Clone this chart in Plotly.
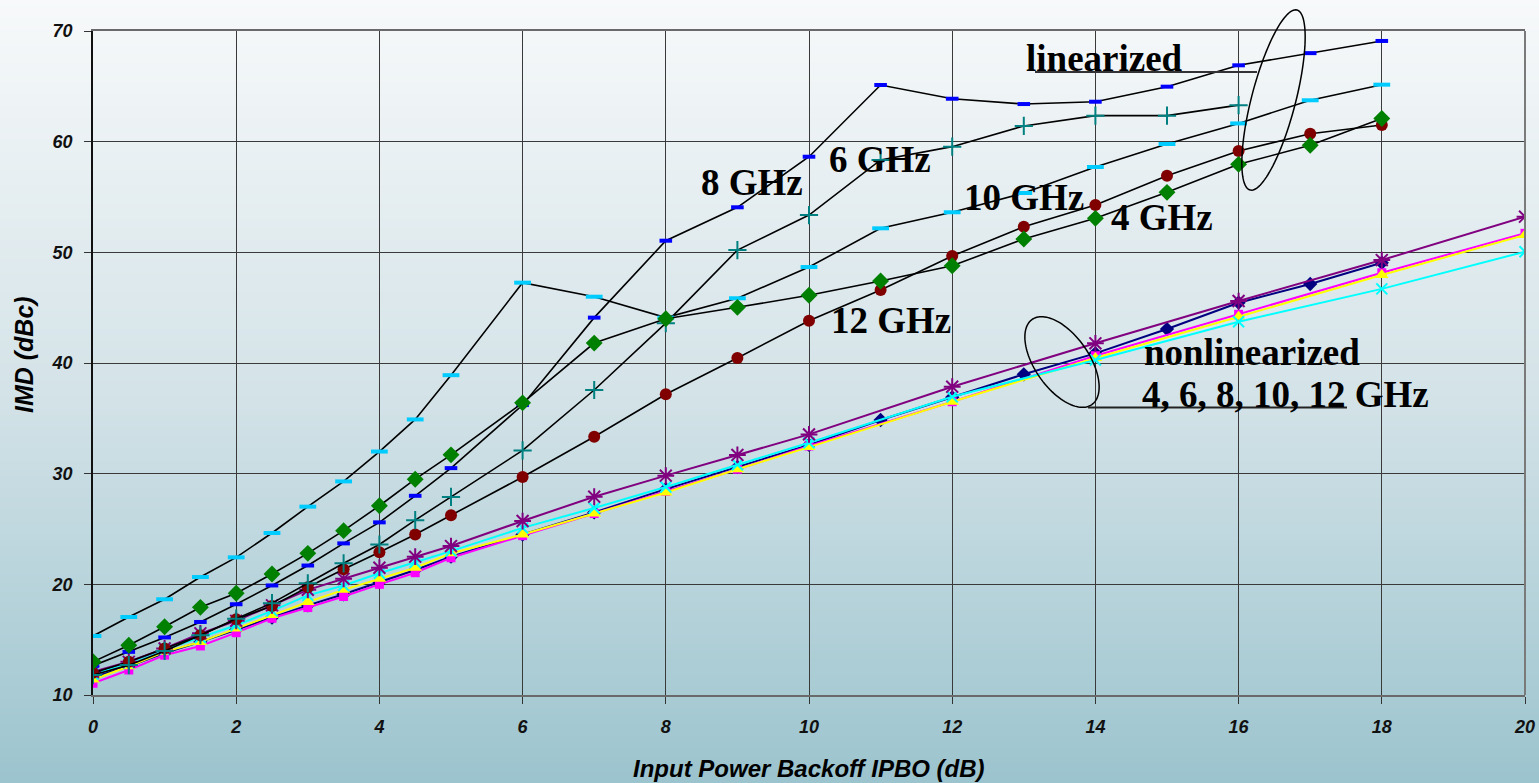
import base64
import struct
import zlib

import numpy as np
import plotly.graph_objects as go

# ---------------- data ----------------
x_lin = [0, 0.5, 1, 1.5, 2, 2.5, 3, 3.5, 4, 4.5, 5, 6, 7, 8, 9, 10, 11, 12, 13, 14, 15, 16, 17, 18]
x_lin_6 = [0, 0.5, 1, 1.5, 2, 2.5, 3, 3.5, 4, 4.5, 5, 6, 7, 8, 9, 10, 11, 12, 13, 14, 15, 16]
x_nl = [0, 0.5, 1, 1.5, 2, 2.5, 3, 3.5, 4, 4.5, 5, 6, 7, 8, 9, 10, 12, 14, 16, 18, 20]

lin_8ghz = [12.65, 13.9, 15.2, 16.6, 18.2, 19.9, 21.7, 23.7, 25.6, 28.0, 30.5, 36.2,
            44.1, 51.05, 54.07, 58.64, 65.12, 63.88, 63.4, 63.61, 64.97, 66.9, 68.0, 69.1]
lin_10ghz = [15.33, 17.05, 18.65, 20.66, 22.44, 24.64, 27.02, 29.3, 32.0, 34.9, 38.9, 47.26,
             45.99, 44.1, 45.85, 48.67, 52.17, 53.62, 55.36, 57.71, 59.79, 61.65, 63.74, 65.15]
lin_6ghz = [11.8, 12.7, 13.98, 15.4, 16.9, 18.3, 20.1, 21.9, 23.6, 25.8, 27.9, 32.1,
            37.56, 43.6, 50.2, 53.37, 58.35, 59.55, 61.42, 62.35, 62.35, 63.3]
lin_4ghz = [13.0, 14.5, 16.17, 17.92, 19.19, 20.93, 22.8, 24.85, 27.1, 29.5, 31.7, 36.4,
            41.8, 44.0, 45.03, 46.12, 47.41, 48.79, 51.2, 53.07, 55.42, 57.95, 59.67, 62.1]
lin_12ghz = [12.0, 13.0, 14.2, 15.4, 16.84, 18.04, 19.73, 21.36, 22.9, 24.5, 26.24, 29.7,
             33.34, 37.17, 40.45, 43.82, 46.6, 49.67, 52.32, 54.28, 56.93, 59.16, 60.72, 61.5]

nl_navy = [11.6, 12.6, 13.8, 14.8, 15.9, 17.0, 18.1, 19.1, 20.2, 21.3, 22.5, 24.5,
           26.5, 28.6, 30.6, 32.6, 34.85, 36.9, 38.98, 40.87, 43.07, 45.45, 47.14, 49.06]
nl_magenta = [11.06, 12.26, 13.6, 14.43, 15.63, 16.93, 17.9, 18.9, 20.0, 21.05, 22.4,
              24.4, 26.4, 28.4, 30.4, 32.5, 36.5, 40.66, 44.4, 48.16, 51.72]
nl_yellow = [11.4, 12.6, 13.9, 14.8, 16.0, 17.23, 18.4, 19.5, 20.5, 21.5, 22.8,
             24.5, 26.4, 28.3, 30.4, 32.4, 36.5, 40.45, 44.18, 47.95, 51.57]
nl_cyan = [11.9, 12.9, 14.1, 15.2, 16.3, 17.6, 19.0, 19.9, 21.0, 22.0, 23.0,
           25.1, 26.9, 28.8, 30.8, 32.8, 36.95, 40.27, 43.73, 46.7, 50.06]
nl_purple = [12.1, 13.0, 14.2, 15.57, 16.7, 18.1, 19.5, 20.5, 21.5, 22.5, 23.46,
             25.72, 27.92, 29.82, 31.69, 33.55, 37.86, 41.78, 45.6, 49.3, 53.22]

x_ticks = [0, 2, 4, 6, 8, 10, 12, 14, 16, 18, 20]
y_ticks = [10, 20, 30, 40, 50, 60, 70]

# ---------------- geometry ----------------
W, H = 1539, 783
ML, MR, MT, MB = 93, 14, 31, 88
PW, PH = W - ML - MR, H - MT - MB


def px(xp):
    return (xp - ML) / PW


def py(yp):
    return (H - MB - yp) / PH


# ---------------- gradient background ----------------
def gradient_png():
    stops = [(0.0, (247, 249, 250)), (0.5, (212, 227, 232)), (1.0, (156, 196, 206))]
    n = 256
    rows = []
    for i in range(n):
        t = i / (n - 1)
        for (t0, c0), (t1, c1) in zip(stops[:-1], stops[1:]):
            if t0 <= t <= t1:
                f = (t - t0) / (t1 - t0)
                c = tuple(int(round(a + (b - a) * f)) for a, b in zip(c0, c1))
                break
        rows.append(c)
    raw = b"".join(b"\x00" + bytes(c) * 2 for c in rows)

    def chunk(tag, data):
        return (struct.pack(">I", len(data)) + tag + data
                + struct.pack(">I", zlib.crc32(tag + data) & 0xFFFFFFFF))

    png = (b"\x89PNG\r\n\x1a\n"
           + chunk(b"IHDR", struct.pack(">IIBBBBB", 2, n, 8, 2, 0, 0, 0))
           + chunk(b"IDAT", zlib.compress(raw, 9))
           + chunk(b"IEND", b""))
    return "data:image/png;base64," + base64.b64encode(png).decode()


fig = go.Figure()


def add_nl(x, y, color, symbol, size, lw=0, name=""):
    marker = dict(symbol=symbol, size=size, color=color, line=dict(width=lw, color=color))
    fig.add_trace(go.Scatter(x=x, y=y, mode="lines+markers", name=name,
                             line=dict(color=color, width=2), marker=marker))


def add_lin(x, y, color, symbol, size, lw=0, name=""):
    marker = dict(symbol=symbol, size=size, color=color, line=dict(width=lw, color=color))
    fig.add_trace(go.Scatter(x=x, y=y, mode="lines+markers", name=name,
                             line=dict(color="black", width=1.6), marker=marker))


# nonlinearized
add_nl(x_lin, nl_navy, "#000080", "diamond", 11, name="NL navy")
add_nl(x_nl, nl_magenta, "#ff00ff", "square", 9, name="NL magenta")
add_nl(x_nl, nl_yellow, "#ffff00", "triangle-up", 12, name="NL yellow")
add_nl(x_nl, nl_cyan, "#00ffff", "x-thin", 11, lw=2, name="NL cyan")
add_nl(x_nl, nl_purple, "#800080", "asterisk", 14, lw=2, name="NL purple")

# linearized
add_lin(x_lin, lin_12ghz, "#800000", "circle", 12, name="12 GHz")
add_lin(x_lin_6, lin_6ghz, "#008080", "cross-thin", 13, lw=2, name="6 GHz")
add_lin(x_lin, lin_8ghz, "#0000ff", "line-ew", 9, lw=4, name="8 GHz")
add_lin(x_lin, lin_10ghz, "#00ccff", "line-ew", 12, lw=4, name="10 GHz")
add_lin(x_lin, lin_4ghz, "#008000", "diamond", 13, name="4 GHz")

# ---------------- decorations ----------------
shapes = []


def ellipse_path(cx, cy, a, b, ang_deg):
    t = np.linspace(0, 2 * np.pi, 120)
    th = np.deg2rad(ang_deg)
    ux, uy = np.cos(th), np.sin(th)
    vx, vy = -np.sin(th), np.cos(th)
    xs = cx + a * np.cos(t) * ux + b * np.sin(t) * vx
    ys = cy + a * np.cos(t) * uy + b * np.sin(t) * vy
    pts = [f"{px(xx):.5f},{py(yy):.5f}" for xx, yy in zip(xs, ys)]
    return "M " + " L ".join(pts) + " Z"


# linearized ellipse (pixel space, y down)
shapes.append(dict(type="path", xref="paper", yref="paper",
                   path=ellipse_path(1273.5, 100, 93, 22, -75.4),
                   line=dict(color="black", width=1.5)))
# nonlinearized ellipse
shapes.append(dict(type="path", xref="paper", yref="paper",
                   path=ellipse_path(1062, 362, 52, 27, 55),
                   line=dict(color="black", width=1.5)))
# underline / leader lines
shapes.append(dict(type="line", xref="paper", yref="paper",
                   x0=px(1035), x1=px(1257), y0=py(72), y1=py(72),
                   line=dict(color="#333333", width=2)))
shapes.append(dict(type="line", xref="paper", yref="paper",
                   x0=px(1088), x1=px(1347), y0=py(407.5), y1=py(407.5),
                   line=dict(color="#222222", width=2)))
# right frame line
shapes.append(dict(type="line", xref="paper", yref="paper",
                   x0=1, x1=1, y0=0, y1=1, line=dict(color="#7a7a7a", width=2)))

serif = dict(family="Liberation Serif, Times New Roman, serif", size=37, color="black")


def label(text, xl, yc, font=serif):
    return dict(text=text, xref="paper", yref="paper", x=px(xl), y=py(yc),
                xanchor="left", yanchor="middle", showarrow=False, font=font)


sans_title = dict(family="Liberation Sans, Arial, sans-serif", size=24, color="black")

annotations = [
    label("<b>8 GHz</b>", 699, 182),
    label("<b>6 GHz</b>", 827, 160),
    label("<b>10 GHz</b>", 962, 197),
    label("<b>4 GHz</b>", 1109, 218),
    label("<b>12 GHz</b>", 829, 320),
    label("<b>linearized</b>", 1024, 59),
    label("<b>nonlinearized</b>", 1142, 352),
    label("<b>4, 6, 8, 10, 12 GHz</b>", 1140, 394),
    dict(text="<b><i>Input Power Backoff IPBO (dB)</i></b>", xref="paper", yref="paper",
         x=px(809), y=py(768), xanchor="center", yanchor="middle", showarrow=False,
         font=sans_title),
    dict(text="<b><i>IMD (dBc)</i></b>", xref="paper", yref="paper",
         x=px(24), y=py(355), xanchor="center", yanchor="middle", showarrow=False,
         textangle=-90, font=dict(family="Liberation Sans, Arial, sans-serif", size=25,
                                  color="black")),
]

tickfont = dict(family="Liberation Sans, Arial, sans-serif", size=18, color="#111111",
                weight="bold", style="italic")

fig.update_layout(
    width=W, height=H, autosize=False,
    margin=dict(l=ML, r=MR, t=MT, b=MB, pad=0, autoexpand=False),
    paper_bgcolor="#d4e3e8",
    plot_bgcolor="rgba(0,0,0,0)",
    showlegend=False,
    hovermode=False,
    images=[dict(source=gradient_png(), xref="paper", yref="paper",
                 x=-ML / PW, y=1 + MT / PH, sizex=W / PW, sizey=H / PH,
                 xanchor="left", yanchor="top", sizing="stretch", layer="below")],
    shapes=shapes,
    annotations=annotations,
    xaxis=dict(range=[0, 20], tickvals=x_ticks, ticktext=[str(v) for v in x_ticks],
               automargin=False,
               showgrid=True, gridcolor="#3a3a3a", gridwidth=1, zeroline=False,
               showline=True, linecolor="#6a6a6a", linewidth=2, mirror=True,
               ticks="outside", ticklen=7, tickcolor="#333333", tickwidth=1,
               tickfont=tickfont, ticklabelstandoff=7),
    yaxis=dict(range=[10, 70], tickvals=y_ticks, ticktext=[str(v) for v in y_ticks],
               automargin=False,
               showgrid=True, gridcolor="#3a3a3a", gridwidth=1, zeroline=False,
               showline=True, linecolor="#111111", linewidth=1.5,
               ticks="outside", ticklen=7, tickcolor="#333333", tickwidth=1,
               tickfont=tickfont, ticklabelstandoff=8),
)

fig.write_html(
    "out.html",
    config={"displayModeBar": False, "responsive": False},
    default_width="1539px",
    default_height="783px",
    post_script="document.body.style.margin='0';document.body.style.padding='0';"
                "document.documentElement.style.overflow='hidden';",
)
